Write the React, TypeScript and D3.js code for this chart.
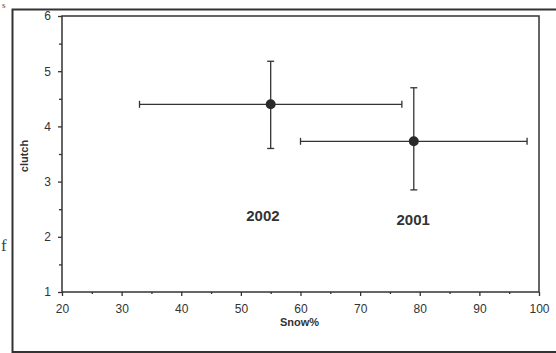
import { useEffect, useRef } from "react";
import * as d3 from "d3";

// values
const years = ["2002", "2001"];
const snowMean = [55, 79];
const snowLow = [33, 60];
const snowHigh = [77, 98];
const clutchMean = [4.4, 3.73];
const clutchLow = [3.6, 2.85];
const clutchHigh = [5.18, 4.7];
const labelAt = [[53.7, 2.29], [78.9, 2.22]]; // [snow, clutch] where year labels sit
const xTicks = [20, 30, 40, 50, 60, 70, 80, 90, 100];
const yTicks = [1, 2, 3, 4, 5, 6];

export default function App() {
    const ref = useRef<SVGSVGElement>(null);

    useEffect(() => {
        const svg = d3.select(ref.current);
        svg.selectAll("*").remove();

        const left = 62, right = 539, top = 16, bottom = 292;
        const ink = "#333";
        const font = "Liberation Sans, Arial, sans-serif";

        const x = d3.scaleLinear().domain([20, 100]).range([left, right]);
        const y = d3.scaleLinear().domain([1, 6]).range([bottom, top]);

        // outer frame from the scanned page
        svg.append("path")
            .attr("d", `M556,9.5 H12.5 V352 H556`)
            .attr("fill", "none").attr("stroke", ink).attr("stroke-width", 2);

        // stray letters from the page text
        svg.append("text").attr("x", 2).attr("y", 8).text("s")
            .attr("font-family", "Liberation Serif, serif").attr("font-size", 9).attr("fill", "#444");
        svg.append("text").attr("x", 1).attr("y", 251).text("f")
            .attr("font-family", "Liberation Serif, serif").attr("font-size", 17).attr("fill", "#444");

        // plot box
        svg.append("rect")
            .attr("x", left).attr("y", top)
            .attr("width", right - left).attr("height", bottom - top)
            .attr("fill", "none").attr("stroke", ink).attr("stroke-width", 1.5);

        // axes
        const xAxis = d3.axisBottom(x).tickValues(xTicks).tickSize(4).tickPadding(8).tickFormat(d3.format("d"));
        const gx = svg.append("g").attr("transform", `translate(0,${bottom})`).call(xAxis);
        gx.select(".domain").remove();
        gx.selectAll("line").attr("stroke", ink).attr("stroke-width", 1.3);
        gx.selectAll("text").attr("font-family", font).attr("font-size", 12).attr("fill", "#333");

        const gxm = svg.append("g").attr("transform", `translate(0,${bottom})`)
            .call(d3.axisBottom(x).tickValues(d3.range(25, 100, 10)).tickSize(2).tickFormat(() => ""));
        gxm.select(".domain").remove();
        gxm.selectAll("line").attr("stroke", ink).attr("stroke-width", 1.3);

        const yAxis = d3.axisLeft(y).tickValues(yTicks).tickSize(4).tickPadding(7).tickFormat(d3.format("d"));
        const gy = svg.append("g").attr("transform", `translate(${left},0)`).call(yAxis);
        gy.select(".domain").remove();
        gy.selectAll("line").attr("stroke", ink).attr("stroke-width", 1.3);
        gy.selectAll("text").attr("font-family", font).attr("font-size", 12).attr("fill", "#333");

        const gym = svg.append("g").attr("transform", `translate(${left},0)`)
            .call(d3.axisLeft(y).tickValues(d3.range(1.5, 6, 1)).tickSize(3).tickFormat(() => ""));
        gym.select(".domain").remove();
        gym.selectAll("line").attr("stroke", ink).attr("stroke-width", 1.3);

        // axis titles
        svg.append("text")
            .attr("transform", `translate(28,${(top + bottom) / 2 + 2}) rotate(-90)`)
            .attr("text-anchor", "middle")
            .attr("font-family", font).attr("font-size", 11).attr("font-weight", "bold").attr("fill", "#333")
            .text("clutch");
        svg.append("text")
            .attr("x", (left + right) / 2 - 1).attr("y", 326)
            .attr("text-anchor", "middle")
            .attr("font-family", font).attr("font-size", 11).attr("font-weight", "bold").attr("fill", "#333")
            .text("Snow%");

        // error bars
        const cap = 3.5;
        const g = svg.append("g").attr("stroke", ink).attr("stroke-width", 1.3).attr("fill", "none");
        years.forEach((yr, i) => {
            const cy = y(clutchMean[i]);
            const cx = x(snowMean[i]);
            g.append("line").attr("x1", x(snowLow[i])).attr("x2", x(snowHigh[i])).attr("y1", cy).attr("y2", cy);
            g.append("line").attr("x1", x(snowLow[i])).attr("x2", x(snowLow[i])).attr("y1", cy - cap).attr("y2", cy + cap);
            g.append("line").attr("x1", x(snowHigh[i])).attr("x2", x(snowHigh[i])).attr("y1", cy - cap).attr("y2", cy + cap);
            g.append("line").attr("x1", cx).attr("x2", cx).attr("y1", y(clutchLow[i])).attr("y2", y(clutchHigh[i]));
            g.append("line").attr("x1", cx - cap).attr("x2", cx + cap).attr("y1", y(clutchLow[i])).attr("y2", y(clutchLow[i]));
            g.append("line").attr("x1", cx - cap).attr("x2", cx + cap).attr("y1", y(clutchHigh[i])).attr("y2", y(clutchHigh[i]));
        });

        svg.selectAll("circle.pt")
            .data(years)
            .enter()
            .append("circle")
                .attr("class", "pt")
                .attr("cx", (_d, i) => x(snowMean[i]))
                .attr("cy", (_d, i) => y(clutchMean[i]))
                .attr("r", 5)
                .attr("fill", "#2a2a2a");

        svg.selectAll("text.yr")
            .data(years)
            .enter()
            .append("text")
                .attr("class", "yr")
                .attr("x", (_d, i) => x(labelAt[i][0]))
                .attr("y", (_d, i) => y(labelAt[i][1]))
                .attr("text-anchor", "middle")
                .attr("font-family", font).attr("font-size", 15).attr("font-weight", "bold").attr("fill", "#333")
                .text((d) => d);
    }, []);

    return (
        <svg ref={ref} width={556} height={353}
            style={{ position: "absolute", left: 0, top: 0, background: "white" }} />
    );
}
